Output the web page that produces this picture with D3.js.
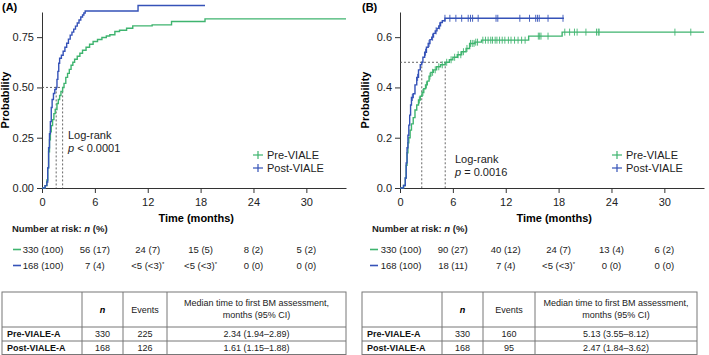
<!DOCTYPE html>
<html>
<head>
<meta charset="utf-8">
<script src="https://cdn.jsdelivr.net/npm/d3@7/dist/d3.min.js"></script>
<style>
  body { margin: 0; background: #fff; }
  svg { font-family: "Liberation Sans", Arial, sans-serif; }
</style>
</head>
<body>
<svg id="chart" width="709" height="355"></svg>
<script>
// ---- data ----
var monthTicks = [0, 6, 12, 18, 24, 30]
var probTicksA = [0, 0.25, 0.5, 0.75]
var probTicksB = [0, 0.2, 0.4, 0.6]

// cumulative incidence, [month, probability], step after
var preA = [[0,0],[0.35,0.012],[0.55,0.04],[0.65,0.1],[0.75,0.18],[0.85,0.24],[0.95,0.28],[1.05,0.31],[1.2,0.34],[1.35,0.37],[1.5,0.39],[1.7,0.42],[1.85,0.44],[2.0,0.46],[2.15,0.48],[2.34,0.5],[2.5,0.52],[2.7,0.55],[2.9,0.57],[3.1,0.59],[3.3,0.61],[3.5,0.625],[3.7,0.64],[4.0,0.655],[4.3,0.67],[4.6,0.685],[5.0,0.7],[5.4,0.715],[5.8,0.728],[6.3,0.738],[6.8,0.748],[7.3,0.756],[7.7,0.762],[8.27,0.778],[8.8,0.784],[9.6,0.794],[10.3,0.806],[12.5,0.811],[14.7,0.828],[18.5,0.841],[34.5,0.841]]
var postA = [[0,0],[0.35,0.012],[0.55,0.03],[0.65,0.1],[0.75,0.2],[0.85,0.27],[0.95,0.33],[1.05,0.4],[1.15,0.44],[1.3,0.47],[1.45,0.49],[1.61,0.5],[1.7,0.54],[1.8,0.58],[1.9,0.62],[2.0,0.645],[2.2,0.66],[2.4,0.68],[2.6,0.7],[2.8,0.72],[3.0,0.74],[3.2,0.76],[3.4,0.775],[3.6,0.79],[3.8,0.805],[4.0,0.82],[4.2,0.835],[4.4,0.85],[4.6,0.86],[4.75,0.87],[4.9,0.88],[10.9,0.907],[18.5,0.907]]
var preB = [[0,0],[0.4,0.01],[0.6,0.04],[0.7,0.09],[0.8,0.14],[0.9,0.18],[1.0,0.2],[1.15,0.23],[1.3,0.255],[1.5,0.28],[1.7,0.31],[1.9,0.33],[2.1,0.35],[2.3,0.365],[2.5,0.38],[2.7,0.395],[2.9,0.41],[3.1,0.425],[3.3,0.445],[3.5,0.46],[3.8,0.47],[4.15,0.482],[4.6,0.49],[5.13,0.5],[5.6,0.51],[6.0,0.52],[6.5,0.53],[7.0,0.542],[7.5,0.555],[7.9,0.575],[8.5,0.58],[9.25,0.588],[14.6,0.604],[18.4,0.62],[34.5,0.62]]
var postB = [[0,0],[0.4,0.01],[0.6,0.04],[0.7,0.1],[0.8,0.16],[0.9,0.21],[1.0,0.25],[1.1,0.29],[1.2,0.33],[1.3,0.36],[1.5,0.375],[1.7,0.41],[1.9,0.44],[2.1,0.47],[2.3,0.49],[2.47,0.5],[2.6,0.52],[2.8,0.54],[3.0,0.56],[3.2,0.575],[3.4,0.59],[3.6,0.6],[3.8,0.615],[4.0,0.625],[4.2,0.635],[4.4,0.645],[4.6,0.658],[4.8,0.665],[5.1,0.675],[18.6,0.675]]

// censoring marks (months), panel B only
var censorPreB = [2.2,2.6,3.0,3.4,3.7,4.0,4.4,4.8,5.3,5.8,6.2,6.6,6.9,7.2,7.6,8.0,8.2,8.4,8.6,8.8,9.4,9.7,10.0,10.3,10.5,10.8,11.0,11.3,11.6,11.9,12.3,12.6,13.0,13.4,13.8,14.2,15.7,15.85,16.0,16.8,18.7,19.25,19.8,20.1,21.1,22.3,22.5,22.6,31.2,33.0]
var censorPostB = [1.4,2.0,2.9,3.3,3.7,4.1,4.5,5.1,5.66,6.34,7.0,7.74,8.0,8.24,8.87,10.9,11.1,13.6,14.7,15.4,15.6,15.8,16.8,18.5]

var mediansA = [2.34, 1.61]
var mediansB = [5.13, 2.47]

var riskPreA = ["330 (100)", "56 (17)", "24 (7)", "15 (5)", "8 (2)", "5 (2)"]
var riskPostA = ["168 (100)", "7 (4)", "<5 (<3)*", "<5 (<3)*", "0 (0)", "0 (0)"]
var riskPreB = ["330 (100)", "90 (27)", "40 (12)", "24 (7)", "13 (4)", "6 (2)"]
var riskPostB = ["168 (100)", "18 (11)", "7 (4)", "<5 (<3)*", "0 (0)", "0 (0)"]

var tableGroups = ["Pre-VIALE-A", "Post-VIALE-A"]
var tableN = ["330", "168"]
var tableEventsA = ["225", "126"]
var tableEventsB = ["160", "95"]
var tableMedianA = ["2.34 (1.94\u20132.89)", "1.61 (1.15\u20131.88)"]
var tableMedianB = ["5.13 (3.55\u20138.12)", "2.47 (1.84\u20133.62)"]

var seriesNames = ["Pre-VIALE", "Post-VIALE"]
var green = "#3fb46f"
var blue = "#3552b8"
var axisColor = "#333"

var svg = d3.select("#chart")

// step lookup for placing censor marks on a curve
function valueAt(curve, t) {
  var v = 0
  curve.forEach(function(d) { if (d[0] <= t) v = d[1] })
  return v
}

function drawPanel(p) {
  var g = svg.append("g").attr("transform", "translate(" + p.left + ",0)")

  var x = d3.scaleLinear().domain([0, 34.5]).range([0, 304])
  var y = d3.scaleLinear().domain([0, p.yMax]).range([188, 12])

  // panel letter
  g.append("text")
    .attr("x", p.letterX).attr("y", 11)
    .style("font-weight", "bold").style("font-size", "11px")
    .text(p.letter)

  // axes
  var xAxis = d3.axisBottom(x).tickValues(monthTicks).tickSize(5).tickSizeOuter(0)
  var gx = g.append("g").attr("transform", "translate(0,188)").call(xAxis)
  var yAxis = d3.axisLeft(y).tickValues(p.yTicks).tickFormat(d3.format(p.yFormat)).tickSize(5).tickSizeOuter(0)
  var gy = g.append("g").call(yAxis)
  ;[gx, gy].forEach(function(a) {
    a.select(".domain").attr("stroke", axisColor)
    a.selectAll(".tick line").attr("stroke", axisColor)
    a.selectAll(".tick text").attr("fill", "#222").style("font-size", "11px")
      .style("font-family", "Liberation Sans, Arial, sans-serif")
  })
  gx.selectAll(".tick text").attr("dy", "0.9em")

  g.append("text")
    .attr("transform", "translate(" + p.yLabelX + ",100) rotate(-90)")
    .attr("text-anchor", "middle")
    .style("font-weight", "bold").style("font-size", "11px")
    .text("Probability")

  g.append("text")
    .attr("x", x(17.5)).attr("y", 222)
    .attr("text-anchor", "middle")
    .style("font-weight", "bold").style("font-size", "11px")
    .text("Time (months)")

  // median reference lines
  g.append("line")
    .attr("x1", x(0)).attr("x2", x(d3.max(p.medians)))
    .attr("y1", y(0.5)).attr("y2", y(0.5))
    .attr("stroke", "#555").attr("stroke-dasharray", "2,2").attr("stroke-width", 0.9)
  g.selectAll(".med").data(p.medians).enter().append("line")
    .attr("x1", function(d) { return x(d) }).attr("x2", function(d) { return x(d) })
    .attr("y1", y(0.5)).attr("y2", y(0))
    .attr("stroke", "#555").attr("stroke-dasharray", "2,2").attr("stroke-width", 0.9)

  // curves
  var line = d3.line()
    .x(function(d) { return x(d[0]) })
    .y(function(d) { return y(d[1]) })
    .curve(d3.curveStepAfter)

  ;[[p.pre, green, p.censorPre], [p.post, blue, p.censorPost]].forEach(function(s) {
    g.append("path").datum(s[0])
      .attr("d", line)
      .attr("fill", "none").attr("stroke", s[1]).attr("stroke-width", 1.4)
    if (s[2]) {
      g.selectAll(null).data(s[2]).enter().append("line")
        .attr("x1", function(d) { return x(d) }).attr("x2", function(d) { return x(d) })
        .attr("y1", function(d) { return y(valueAt(s[0], d)) - 3.5 })
        .attr("y2", function(d) { return y(valueAt(s[0], d)) + 3.5 })
        .attr("stroke", s[1]).attr("stroke-width", 0.9)
    }
  })

  // log-rank note
  g.append("text").attr("x", p.noteX).attr("y", p.noteY)
    .style("font-size", "11px").attr("fill", "#222").text("Log-rank")
  var pt = g.append("text").attr("x", p.noteX).attr("y", p.noteY + 13)
    .style("font-size", "11px").attr("fill", "#222")
  pt.append("tspan").style("font-style", "italic").text("p")
  pt.append("tspan").text(p.pText)

  // legend
  var leg = g.append("g").attr("transform", "translate(" + p.legX + "," + p.legY + ")")
  seriesNames.forEach(function(name, i) {
    var c = i == 0 ? green : blue
    var yy = i * 13
    leg.append("line").attr("x1", 0).attr("x2", 10).attr("y1", yy).attr("y2", yy).attr("stroke", c).attr("stroke-width", 1.2)
    leg.append("line").attr("x1", 5).attr("x2", 5).attr("y1", yy - 4).attr("y2", yy + 4).attr("stroke", c).attr("stroke-width", 1.2)
    leg.append("text").attr("x", 14).attr("y", yy + 4)
      .style("font-size", "11px").attr("fill", "#222").text(name)
  })

  // number at risk
  var nr = g.append("text").attr("x", p.riskTitleX).attr("y", 232)
    .style("font-size", "9.5px").style("font-weight", "bold").attr("fill", "#222")
  nr.append("tspan").text("Number at risk: ")
  nr.append("tspan").style("font-style", "italic").text("n")
  nr.append("tspan").text(" (%)")

  ;[[p.riskPre, green, 253], [p.riskPost, blue, 269]].forEach(function(r) {
    g.append("line").attr("x1", p.dashX).attr("x2", p.dashX + 8)
      .attr("y1", r[2] - 3.5).attr("y2", r[2] - 3.5).attr("stroke", r[1]).attr("stroke-width", 1.6)
    r[0].forEach(function(lbl, i) {
      var t = g.append("text")
        .attr("x", x(monthTicks[i]) + (i == 0 ? 1 : 0)).attr("y", r[2])
        .attr("text-anchor", "middle")
        .style("font-size", "9.5px").attr("fill", "#222")
      if (lbl.slice(-1) == "*") {
        t.append("tspan").text(lbl.slice(0, -1))
        t.append("tspan").attr("dy", -3).style("font-size", "6px").text("*")
      } else {
        t.text(lbl)
      }
    })
  })
}

function drawTable(t) {
  var g = svg.append("g")
  var rowsY = [292, 327, 341, 354.5]
  var x0 = t.cols[0], x3 = t.cols[4]
  g.append("rect").attr("x", x0).attr("y", rowsY[0]).attr("width", x3 - x0).attr("height", rowsY[3] - rowsY[0])
    .attr("fill", "none").attr("stroke", "#777").attr("stroke-width", 1)
  ;[rowsY[1], rowsY[2]].forEach(function(yy) {
    g.append("line").attr("x1", x0).attr("x2", x3).attr("y1", yy).attr("y2", yy).attr("stroke", "#777")
  })
  t.cols.slice(1, 4).forEach(function(xx) {
    g.append("line").attr("x1", xx).attr("x2", xx).attr("y1", rowsY[0]).attr("y2", rowsY[3]).attr("stroke", "#777")
  })
  var mid = function(i) { return (t.cols[i] + t.cols[i + 1]) / 2 }
  var font = "9px"
  g.append("text").attr("x", mid(1)).attr("y", 313).attr("text-anchor", "middle")
    .style("font-size", font).style("font-style", "italic").style("font-weight", "bold").text("n")
  g.append("text").attr("x", mid(2)).attr("y", 313).attr("text-anchor", "middle")
    .style("font-size", font).attr("fill", "#222").text("Events")
  g.append("text").attr("x", mid(3)).attr("y", 306).attr("text-anchor", "middle")
    .style("font-size", font).attr("fill", "#222").text("Median time to first BM assessment,")
  g.append("text").attr("x", mid(3)).attr("y", 318).attr("text-anchor", "middle")
    .style("font-size", font).attr("fill", "#222").text("months (95% CI)")
  tableGroups.forEach(function(name, i) {
    var yy = (rowsY[i + 1] + rowsY[i + 2]) / 2 + 3
    g.append("text").attr("x", x0 + 5).attr("y", yy)
      .style("font-size", font).style("font-weight", "bold").attr("fill", "#111").text(name)
    g.append("text").attr("x", mid(1)).attr("y", yy).attr("text-anchor", "middle")
      .style("font-size", font).attr("fill", "#222").text(tableN[i])
    g.append("text").attr("x", mid(2)).attr("y", yy).attr("text-anchor", "middle")
      .style("font-size", font).attr("fill", "#222").text(t.events[i])
    g.append("text").attr("x", mid(3)).attr("y", yy).attr("text-anchor", "middle")
      .style("font-size", font).attr("fill", "#222").text(t.medians[i])
  })
}

drawPanel({
  left: 42, letter: "(A)", letterX: -40, yMax: 0.875, yTicks: probTicksA, yFormat: ".2f",
  yLabelX: -33, pre: preA, post: postA, medians: mediansA,
  noteX: 26, noteY: 139, pText: " < 0.0001", legX: 211, legY: 155,
  riskTitleX: -30, dashX: -29, riskPre: riskPreA, riskPost: riskPostA
})
drawPanel({
  left: 400, letter: "(B)", letterX: -38, yMax: 0.7, yTicks: probTicksB, yFormat: ".1f",
  yLabelX: -31, pre: preB, post: postB, medians: mediansB,
  censorPre: censorPreB, censorPost: censorPostB,
  noteX: 55, noteY: 163, pText: " = 0.0016", legX: 212, legY: 155,
  riskTitleX: -28, dashX: -30, riskPre: riskPreB, riskPost: riskPostB
})
drawTable({ cols: [2, 82, 123, 167, 346], events: tableEventsA, medians: tableMedianA })
drawTable({ cols: [362, 442, 483, 535, 697], events: tableEventsB, medians: tableMedianB })
</script>
</body>
</html>
